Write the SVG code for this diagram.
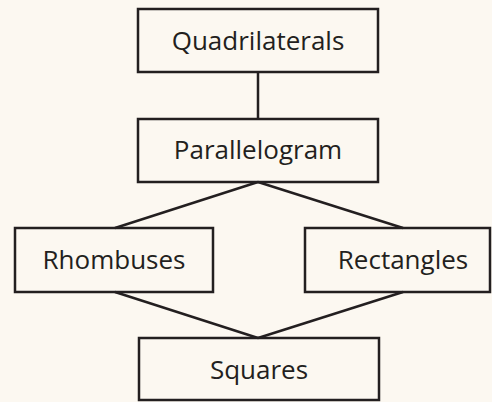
<svg xmlns="http://www.w3.org/2000/svg" width="492" height="402" viewBox="0 0 492 402">
  <style>
    .box { fill: none; stroke: #231f20; stroke-width: 2.5; }
    .edge { fill: none; stroke: #231f20; stroke-width: 2.5; }
    .label { font-family: "Open Sans", "Noto Sans", sans-serif; font-size: 26px; fill: #231f20; text-anchor: middle; }
  </style>
  <rect width="492" height="402" fill="#fcf8f1"/>
  <g id="connectors">
    <line class="edge" x1="258" y1="72" x2="258" y2="119"/>
    <line class="edge" x1="258" y1="182" x2="115" y2="228"/>
    <line class="edge" x1="258" y1="182" x2="403" y2="228"/>
    <line class="edge" x1="115" y1="292" x2="258" y2="338"/>
    <line class="edge" x1="403" y1="292" x2="258" y2="338"/>
  </g>
  <g id="quadrilaterals">
    <rect class="box" x="138" y="9" width="240" height="63"/>
    <text class="label" x="258" y="50">Quadrilaterals</text>
  </g>
  <g id="parallelogram">
    <rect class="box" x="138" y="119" width="240" height="63"/>
    <text class="label" x="258" y="159">Parallelogram</text>
  </g>
  <g id="rhombuses">
    <rect class="box" x="15" y="228" width="198" height="64"/>
    <text class="label" x="114" y="269">Rhombuses</text>
  </g>
  <g id="rectangles">
    <rect class="box" x="305" y="228" width="185" height="64"/>
    <text class="label" x="403" y="269">Rectangles</text>
  </g>
  <g id="squares">
    <rect class="box" x="139" y="338" width="240" height="62"/>
    <text class="label" x="259" y="379">Squares</text>
  </g>
</svg>
